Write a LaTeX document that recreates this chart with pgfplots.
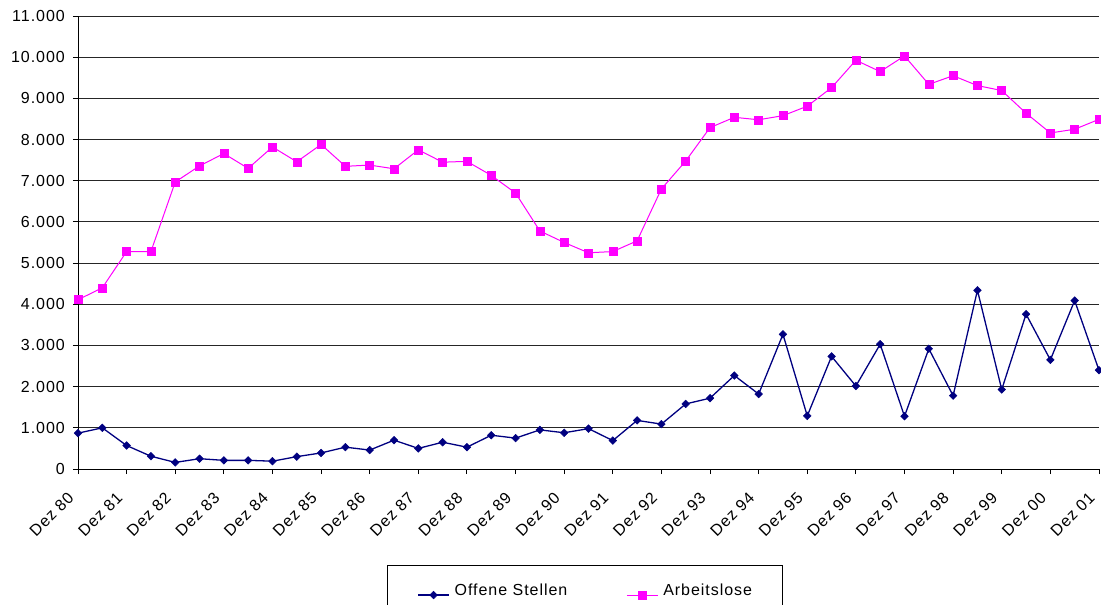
\documentclass[border=0pt]{standalone}
\usepackage{pgfplots}
\pgfplotsset{compat=1.18}
\usepackage{fontspec}
\setmainfont{Liberation Sans}[LetterSpace=6.0]
\definecolor{navyx}{RGB}{0,0,128}
\definecolor{magx}{RGB}{255,0,255}
\pgfplotstableread{
i off arb
0 870 4110
1 1000 4400
2 570 5280
3 310 5280
4 160 6970
5 250 7360
6 210 7660
7 210 7300
8 190 7820
9 300 7460
10 390 7880
11 530 7350
12 460 7380
13 700 7290
14 500 7750
15 650 7450
16 530 7470
17 820 7130
18 750 6700
19 950 5780
20 880 5500
21 980 5250
22 690 5280
23 1180 5540
24 1090 6800
25 1580 7480
26 1720 8290
27 2270 8540
28 1820 8480
29 3270 8580
30 1290 8810
31 2735 9260
32 2015 9925
33 3030 9650
34 1280 10030
35 2920 9340
36 1780 9550
37 4340 9310
38 1930 9190
39 3760 8640
40 2650 8160
41 4090 8250
42 2400 8490
}\datatable
\begin{document}
\begin{tikzpicture}
\begin{axis}[
  at={(0pt,0pt)}, anchor=south west,
  scale only axis, width=1021pt, height=453pt,
  xmin=0, xmax=42, ymin=0, ymax=11000,
  axis x line*=bottom, axis y line*=left,
  axis line style={black, line width=0.9pt, -},
  xtick={0,2,...,42},
  xticklabels={Dez 80,Dez 81,Dez 82,Dez 83,Dez 84,Dez 85,Dez 86,Dez 87,Dez 88,Dez 89,Dez 90,Dez 91,Dez 92,Dez 93,Dez 94,Dez 95,Dez 96,Dez 97,Dez 98,Dez 99,Dez 00,Dez 01},
  ytick={0,1000,...,11000},
  ymajorgrids, major grid style={black!85, line width=0.9pt},
  tick align=outside, major tick length=5pt,
  tick style={black, line width=0.9pt},
  scaled y ticks=false,
  /pgf/number format/assume math mode=true,
  /pgf/number format/1000 sep={.},
  ticklabel style={font=\fontsize{16}{19}\selectfont},
  yticklabel style={inner sep=0pt, xshift=-8pt},
  xticklabel style={xshift=-7pt, yshift=-21pt, rotate=45, anchor=east, inner sep=0pt},
  legend columns=2,
  legend image code/.code={\draw[mark repeat=2, mark phase=2, #1] plot coordinates {(0pt,0pt) (15.5pt,0pt) (31pt,0pt)};},
  legend style={at={(axis description cs:0.3026,-0.2119)}, anchor=north west,
    draw=black, line width=0.9pt, font=\fontsize{16}{19}\selectfont,
    inner xsep=30pt, inner ysep=18pt, column sep=5pt,
    nodes={inner sep=0pt, anchor=base west},
    /tikz/every even column/.append style={column sep=59pt}},
]
\addplot[navyx, line width=1.3pt, mark=square*, mark size=2.7pt, mark options={rotate=45, solid, line width=0.5pt}] table[x=i, y=off] {\datatable};
\addlegendentry{Offene Stellen}
\addplot[magx, line width=1pt, mark=square*, mark size=4pt, mark options={solid, line width=0.5pt}] table[x=i, y=arb] {\datatable};
\addlegendentry{Arbeitslose}
\end{axis}
\pgfresetboundingbox
\path[use as bounding box] (-78pt,-136pt) rectangle (1023pt,469pt);
\end{tikzpicture}
\end{document}
